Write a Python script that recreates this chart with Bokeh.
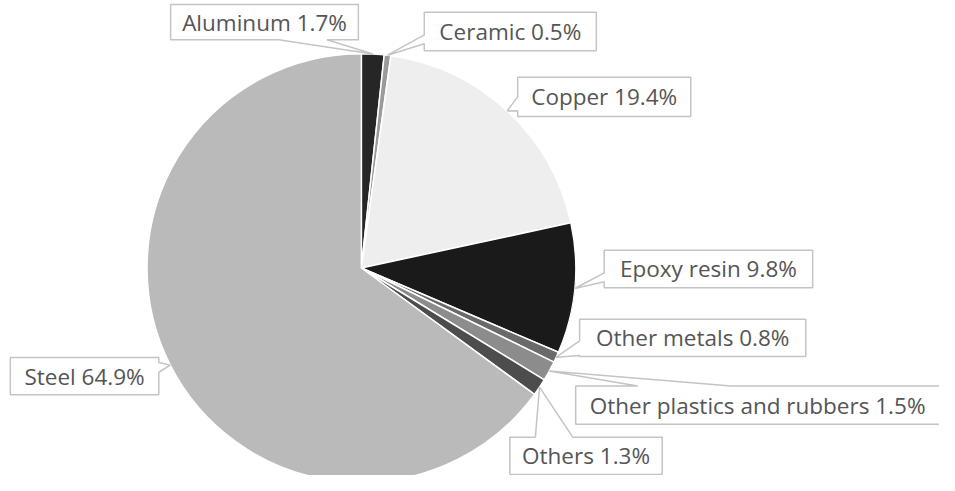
import math
from bokeh.plotting import figure
from bokeh.models import Range1d, ColumnDataSource
from bokeh.core.properties import value
from bokeh.embed import file_html
from bokeh.resources import INLINE

# ---- data ----
materials = ["Aluminum", "Ceramic", "Copper", "Epoxy resin", "Other metals",
             "Other plastics and rubbers", "Others", "Steel"]
shares = [1.7, 0.5, 19.4, 9.8, 0.8, 1.5, 1.3, 64.9]
colors = ["#262626", "#9a9a9a", "#eeeeee", "#1a1a1a", "#6a6a6a",
          "#8c8c8c", "#4d4d4d", "#bababa"]

# ---- layout (reference pixel space, y downward) ----
REF_H = 491
CX, CY_REF, R = 367, 280, 218
# label boxes: (left, top, right, bottom), notch edge, notch span along edge
boxes = [
    ((173, 12, 364, 48), "bottom", (283, 332)),
    ((431, 20, 606, 59), "left", (43, 52)),
    ((526, 86, 702, 126), "left", (106, 120)),
    ((614, 262, 826, 300), "left", (285, 294)),
    ((589, 332, 819, 370), "left", (354, 369)),
    ((585, 400, 962, 439), "top", (648, 743)),
    ((518, 452, 673, 490), "top", (544, 582)),
    ((10, 371, 161, 409), "right", (376, 386)),
]

W, H = 939, 475
p = figure(width=W, height=H, output_backend="svg", toolbar_location=None,
           x_range=Range1d(0, 955), y_range=Range1d(0, 483),
           min_border=0, outline_line_color=None, background_fill_color="white")
p.axis.visible = False
p.grid.visible = False

total = sum(shares)
cy = REF_H - CY_REF
starts, ends, mids = [], [], []
cum = 0.0
for v in shares:
    a0 = cum / total
    cum += v
    a1 = cum / total
    starts.append(math.pi / 2 - a0 * 2 * math.pi)
    ends.append(math.pi / 2 - a1 * 2 * math.pi)
    mids.append((a0 + a1) / 2 * 2 * math.pi)

src = ColumnDataSource(dict(x=[CX] * len(shares), y=[cy] * len(shares),
                            start=starts, end=ends, color=colors))
p.wedge(x="x", y="y", radius=R, start_angle="start", end_angle="end",
        direction="clock", fill_color="color", line_color="white",
        line_width=1.5, source=src)

# callout boxes
xs, ys, tx, ty, labels = [], [], [], [], []
for name, v, mid, (box, edge, (a, b)) in zip(materials, shares, mids, boxes):
    ax = CX + R * math.sin(mid)
    ay = CY_REF - R * math.cos(mid)
    x0, y0, x1, y1 = box
    pts = [(x0, y0)]
    if edge == "top":
        pts += [(a, y0), (ax, ay), (b, y0)]
    pts.append((x1, y0))
    if edge == "right":
        pts += [(x1, a), (ax, ay), (x1, b)]
    pts.append((x1, y1))
    if edge == "bottom":
        pts += [(b, y1), (ax, ay), (a, y1)]
    pts.append((x0, y1))
    if edge == "left":
        pts += [(x0, b), (ax, ay), (x0, a)]
    xs.append([q[0] for q in pts])
    ys.append([REF_H - q[1] for q in pts])
    right = min(x1, 955)
    tx.append((x0 + right) / 2)
    ty.append(REF_H - (y0 + y1) / 2)
    labels.append(f"{name} {v}%")

p.patches(xs=xs, ys=ys, fill_color="white", line_color="#c4c4c4", line_width=1.5)
p.text(x=tx, y=ty, text=labels, text_align="center", text_baseline="middle",
       text_font=value("Open Sans"), text_font_size="22.5px", text_color="#555555")

open("out.html", "w").write(file_html(p, INLINE))
